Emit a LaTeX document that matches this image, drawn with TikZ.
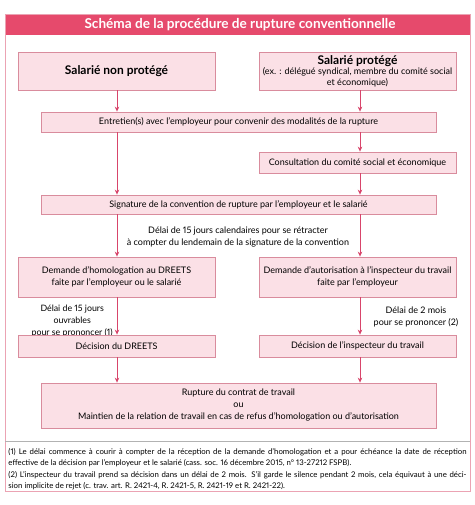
\documentclass[tikz,border=0pt]{standalone}
\usepackage{fontspec}
\setmainfont{Lato}[Numbers=Proportional]
\usetikzlibrary{arrows.meta}
\definecolor{titlered}{HTML}{E64A6C}
\definecolor{framepink}{HTML}{EBA3B3}
\definecolor{boxfill}{HTML}{FBE0E6}
\definecolor{boxline}{HTML}{D98C9D}
\definecolor{arrowred}{HTML}{D8456B}
\tikzset{
  stepbox/.style={draw=boxline, fill=boxfill, line width=0.8pt, align=center, inner sep=1pt, font=\fontsize{9}{11}\selectfont},
  widebox/.style={stepbox, minimum width=395pt},
  sidebox/.style={stepbox, minimum width=197pt},
  arr/.style={->, draw=arrowred, line width=0.7pt},
  note/.style={align=center, font=\fontsize{9}{12}\selectfont}
}
\begin{document}
\begin{tikzpicture}[x=1pt, y=-1pt, >={Stealth[length=5pt,width=4.5pt]}]
\useasboundingbox (0,0) rectangle (474,505);
% frame and title:
\fill[white] (0,0) rectangle (474,505);
\fill[titlered] (5,14) rectangle (470,35);
\draw[framepink, line width=0.9pt] (5,14) rectangle (470,491);
\draw[gray!60, line width=0.6pt] (5,441) -- (470,441);
\node (title) at (240,24.5) [text=white, font=\fontsize{13.6}{14}\selectfont\bfseries] {Schéma de la procédure de rupture conventionnelle};
% columns of the arrows:
\coordinate (lcol) at (117,0);
\coordinate (rcol) at (360,0);
% boxes:
\node (nonprot) at (116.5,71) [sidebox, minimum height=38pt, font=\fontsize{12}{14}\selectfont\bfseries] {Salarié non protégé};
\node (prot) at (357.5,71) [sidebox, minimum height=38pt] {{\fontsize{12}{13}\selectfont\bfseries Salarié protégé}\\[-1pt](ex. : délégué syndical, membre du comité social\\ et économique)};
\node (entretien) at (238.5,122) [widebox, minimum height=20pt] {Entretien(s) avec l’employeur pour convenir des modalités de la rupture};
\node (consult) at (357.5,162.5) [sidebox, minimum height=21pt] {Consultation du comité social et économique};
\node (signature) at (238.5,204.5) [widebox, minimum height=19pt] {Signature de la convention de rupture par l’employeur et le salarié};
\node (delai) at (238,237.5) [note] {Délai de 15 jours calendaires pour se rétracter\\ à compter du lendemain de la signature de la convention};
\node (demhom) at (116.5,277) [sidebox, minimum height=40pt, font=\fontsize{9}{12}\selectfont] {Demande d’homologation au DREETS\\ faite par l’employeur ou le salarié};
\node (demaut) at (357.5,277) [sidebox, minimum height=40pt, font=\fontsize{9}{12}\selectfont] {Demande d’autorisation à l’inspecteur du travail\\ faite par l’employeur};
\node (delaihom) at (113,321) [note, anchor=east, inner sep=0pt, font=\fontsize{8.8}{11.8}\selectfont] {Délai de 15 jours\\ ouvrables\\ pour se prononcer (1)};
\node (delaiaut) at (416,316.5) [note] {Délai de 2 mois\\ pour se prononcer (2)};
\node (dechom) at (116.5,346) [sidebox, minimum height=22pt] {Décision du DREETS};
\node (decaut) at (357.5,346) [sidebox, minimum height=22pt] {Décision de l’inspecteur du travail};
\node (rupture) at (238.5,405.5) [widebox, minimum height=45pt, font=\fontsize{9}{12}\selectfont] {Rupture du contrat de travail\\ ou\\ Maintien de la relation de travail en cas de refus d’homologation ou d’autorisation};
% notes:
\node (notes) at (237.5,469) [text width=458pt, align=justify, inner sep=0pt, font=\fontsize{7.8}{11.4}\selectfont] {(1) Le délai commence à courir à compter de la réception de la demande d’homologation et a pour échéance la date de réception\linebreak effective de la décision par l’employeur et le salarié (cass. soc. 16 décembre 2015, n° 13-27212 FSPB).\\ (2) L’inspecteur du travail prend sa décision dans un délai de 2 mois. S’il garde le silence pendant 2 mois, cela équivaut à une déci-\linebreak sion implicite de rejet (c. trav. art. R. 2421-4, R. 2421-5, R. 2421-19 et R. 2421-22).};
% arrows:
\draw[arr] (nonprot.south -| lcol) -- (entretien.north -| lcol);
\draw[arr] (prot.south -| rcol) -- (entretien.north -| rcol);
\draw[arr] (entretien.south -| lcol) -- (signature.north -| lcol);
\draw[arr] (entretien.south -| rcol) -- (consult.north -| rcol);
\draw[arr] (consult.south -| rcol) -- (signature.north -| rcol);
\draw[arr] (signature.south -| lcol) -- (demhom.north -| lcol);
\draw[arr] (signature.south -| rcol) -- (demaut.north -| rcol);
\draw[arr] (demhom.south -| lcol) -- (dechom.north -| lcol);
\draw[arr] (demaut.south -| rcol) -- (decaut.north -| rcol);
\draw[arr] (dechom.south -| lcol) -- (rupture.north -| lcol);
\draw[arr] (decaut.south -| rcol) -- (rupture.north -| rcol);
\end{tikzpicture}
\end{document}
